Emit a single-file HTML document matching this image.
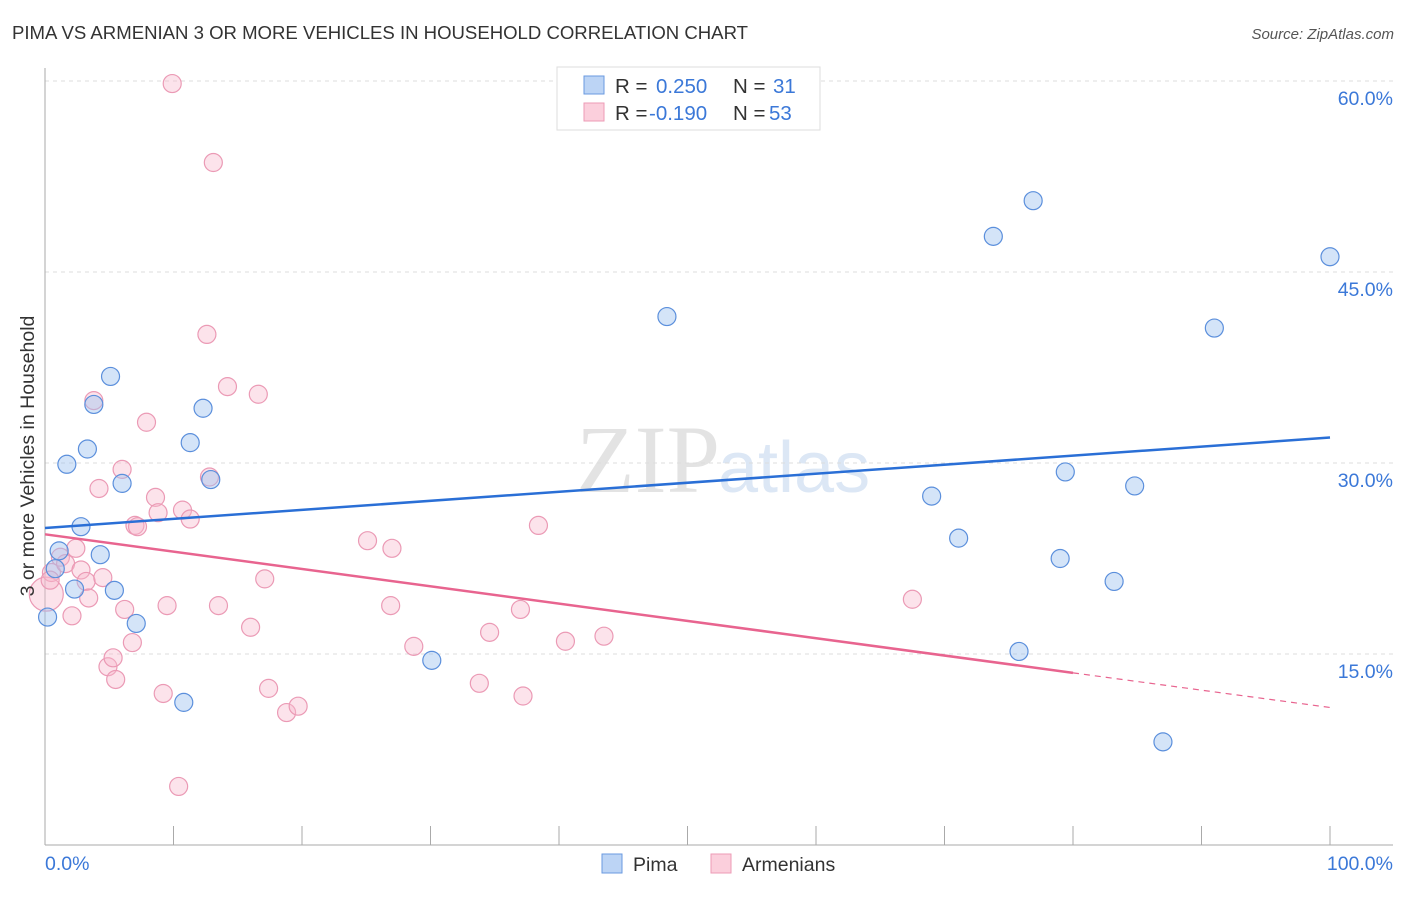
<!DOCTYPE html>
<html><head><meta charset="utf-8"><style>
body{margin:0;background:#fff;font-family:"Liberation Sans",sans-serif;}
</style></head><body>
<svg id="chart" width="1406" height="892" xmlns="http://www.w3.org/2000/svg">
<text x="12" y="39" font-size="18.6" fill="#333" textLength="736">PIMA VS ARMENIAN 3 OR MORE VEHICLES IN HOUSEHOLD CORRELATION CHART</text>
<text x="1394" y="39" font-size="15" fill="#555" text-anchor="end" font-style="italic">Source: ZipAtlas.com</text>
<text x="720" y="492" font-size="96" fill="#e3e3e3" text-anchor="end" font-family="Liberation Serif">ZIP</text>
<text x="718" y="492" font-size="72" fill="#dce7f5">atlas</text>
<g id="grid"></g><g id="axes"></g><g id="marks"></g>
<text transform="translate(34,456) rotate(-90)" font-size="19.5" fill="#333" text-anchor="middle">3 or more Vehicles in Household</text>
<g>
<rect x="557" y="67" width="263" height="63" fill="#fff" stroke="#ddd"/>
<rect x="584" y="76" width="20" height="18" fill="#bcd4f5" stroke="#6a9ae0"/>
<rect x="584" y="103" width="20" height="18" fill="#fbcfdc" stroke="#ec9bb6"/>
<text x="615" y="93" font-size="20.5" fill="#333">R = <tspan x="656" fill="#3b78d8">0.250</tspan><tspan x="733">N =</tspan><tspan x="773" fill="#3b78d8">31</tspan></text>
<text x="615" y="120" font-size="20.5" fill="#333">R = <tspan x="649" fill="#3b78d8">-0.190</tspan><tspan x="733">N =</tspan><tspan x="769" fill="#3b78d8">53</tspan></text>
</g>
<g>
<rect x="602" y="854" width="20" height="19" fill="#bcd4f5" stroke="#6a9ae0"/>
<text x="633" y="871" font-size="19.5" fill="#333">Pima</text>
<rect x="711" y="854" width="20" height="19" fill="#fbcfdc" stroke="#ec9bb6"/>
<text x="742" y="871" font-size="19.5" fill="#333">Armenians</text>
</g>
</svg>
<script>
const yTicks=[15,30,45,60];
const yTickLabels=["15.0%","30.0%","45.0%","60.0%"];
const xTicks=[0,10,20,30,40,50,60,70,80,90,100];
const pimaX=[0.2,1.1,0.8,1.7,2.3,2.8,3.3,3.8,4.3,5.1,5.4,6.0,7.1,10.8,11.3,12.3,12.9,30.1,48.4,69.0,71.1,73.8,75.8,76.9,79.0,79.4,83.2,84.8,87.0,91.0,100];
const pimaY=[17.9,23.1,21.7,29.9,20.1,25.0,31.1,34.6,22.8,36.8,20.0,28.4,17.4,11.2,31.6,34.3,28.7,14.5,41.5,27.4,24.1,47.8,15.2,50.6,22.5,29.3,20.7,28.2,8.1,40.6,46.2];
const armX=[9.9,13.1,12.6,14.2,16.6,3.8,7.9,6.0,4.2,8.6,8.8,10.7,11.3,7.0,7.2,12.8,0.1,0.5,1.2,1.6,2.4,2.8,3.2,3.4,4.5,6.2,9.5,13.5,17.1,16.0,6.8,4.9,5.3,5.5,9.2,17.4,18.8,19.7,10.4,25.1,27.0,26.9,28.7,34.6,33.8,37.0,37.2,38.4,40.5,43.5,67.5,2.1,0.4];
const armY=[59.8,53.6,40.1,36.0,35.4,34.9,33.2,29.5,28.0,27.3,26.1,26.3,25.6,25.1,25.0,28.9,19.7,21.4,22.6,22.1,23.3,21.6,20.7,19.4,21.0,18.5,18.8,18.8,20.9,17.1,15.9,14.0,14.7,13.0,11.9,12.3,10.4,10.9,4.6,23.9,23.3,18.8,15.6,16.7,12.7,18.5,11.7,25.1,16.0,16.4,19.3,18.0,20.8];
const armBig=[16];
const pimaTrend=[24.9,32.0];
const armTrend=[24.4,10.8];
const armSolidEnd=80;

const NS="http://www.w3.org/2000/svg";
const X=v=>45+v*12.85, Y=v=>845-v*12.733;
function mk(tag,attrs,parent){const e=document.createElementNS(NS,tag);for(const k in attrs)e.setAttribute(k,attrs[k]);parent.appendChild(e);return e;}
const grid=document.getElementById('grid'),axes=document.getElementById('axes'),marks=document.getElementById('marks');
yTicks.forEach((t,i)=>{
 const l=mk('line',{x1:45,x2:1393,y1:Y(t),y2:Y(t),stroke:'#ddd','stroke-dasharray':'4,4'},grid);
 
 
 const tx=mk('text',{x:1393,y:Y(t)+24,'font-size':19.5,fill:'#3b78d8','text-anchor':'end'},axes);
 tx.textContent=yTickLabels[i];
 
 
});
const yax=mk('line',{x1:45,x2:45,y1:68,y2:845,stroke:'#aaa'},axes);


const xax=mk('line',{x1:45,x2:1393,y1:845,y2:845,stroke:'#aaa'},axes);


xTicks.forEach(t=>{
 const l=mk('line',{x1:X(t),x2:X(t),y1:826,y2:845,stroke:'#aaa'},axes);
 
 
});
[[0,"0.0%","start",45],[100,"100.0%","end",1393]].forEach(d=>{
 const tx=mk('text',{x:d[3],y:870,'font-size':19.5,fill:'#3b78d8','text-anchor':d[2]},axes);
 tx.textContent=d[1];
 
 
});
armX.forEach((v,i)=>{
 const c=mk('circle',{cx:X(v),cy:Y(armY[i]),r:armBig.includes(i)?17:9,fill:'rgba(248,185,205,0.4)',stroke:'#eb9ab5','stroke-width':1.2},marks);
 
 
});
pimaX.forEach((v,i)=>{
 const c=mk('circle',{cx:X(v),cy:Y(pimaY[i]),r:9,fill:'rgba(160,195,240,0.45)',stroke:'#5b8fdc','stroke-width':1.2},marks);
 
 
});
const bt=mk('line',{x1:X(0),y1:Y(pimaTrend[0]),x2:X(100),y2:Y(pimaTrend[1]),stroke:'#2a6fd6','stroke-width':2.5},marks);


const ay=v=>armTrend[0]+(armTrend[1]-armTrend[0])*v/100;
const at=mk('line',{x1:X(0),y1:Y(ay(0)),x2:X(armSolidEnd),y2:Y(ay(armSolidEnd)),stroke:'#e8648f','stroke-width':2.5},marks);


const ad=mk('line',{x1:X(armSolidEnd),y1:Y(ay(armSolidEnd)),x2:X(100),y2:Y(ay(100)),stroke:'#e8648f','stroke-width':1.2,'stroke-dasharray':'6,5'},marks);


</script>
</body></html>
